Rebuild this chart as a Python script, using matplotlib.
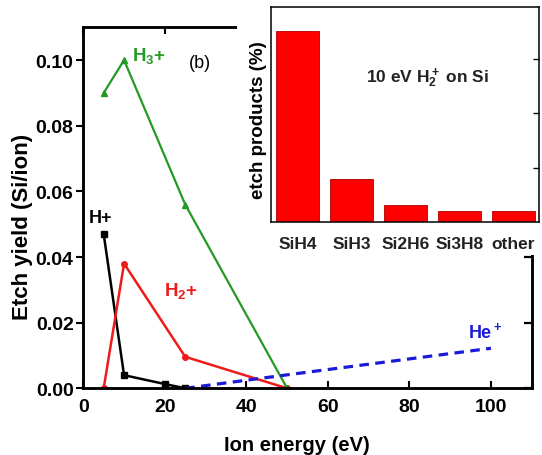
import matplotlib
matplotlib.use('Agg')
import matplotlib.pyplot as plt
from matplotlib.patches import Rectangle

plt.rcParams['font.family'] = ['Liberation Sans', 'DejaVu Sans']
plt.rcParams['font.weight'] = 'bold'
plt.rcParams['axes.labelweight'] = 'bold'
plt.rcParams['mathtext.fontset'] = 'custom'
plt.rcParams['mathtext.rm'] = 'Liberation Sans:bold'
plt.rcParams['mathtext.bf'] = 'Liberation Sans:bold'
plt.rcParams['mathtext.it'] = 'Liberation Sans:bold'
plt.rcParams['mathtext.default'] = 'bf'

# etch yield (Si/ion) vs ion energy (eV)
h1_energy = [5, 10, 20, 25]
h1_yield = [0.047, 0.004, 0.0013, 0.0]
h2_energy = [5, 10, 25, 50]
h2_yield = [0.0, 0.038, 0.0096, 0.0]
h3_energy = [5, 10, 25, 50]
h3_yield = [0.090, 0.100, 0.056, 0.0]
he_energy = [25, 50, 100]
he_yield = [0.0, 0.0041, 0.0122]

# inset: etch products for 10 eV H2+ on Si
products = ['SiH4', 'SiH3', 'Si2H6', 'Si3H8', 'other']
product_pct = [35.1, 8.0, 3.1, 2.0, 2.0]

GREEN = '#239a23'
RED = '#ee1b1b'
BLUE = '#1a1ad8'


def main():
    W, H = 542, 456
    fig = plt.figure(figsize=(W / 100, H / 100), dpi=100)

    # main axes, placed in pixels
    ax = fig.add_axes([83.3 / W, 1 - 389.3 / H, (531.7 - 83.3) / W, (389.3 - 28.3) / H])
    ax.plot(h1_energy, h1_yield, color='black', lw=1.8, marker='s', ms=4)
    ax.plot(h2_energy, h2_yield, color=RED, lw=1.8, marker='o', ms=4)
    ax.plot(h3_energy, h3_yield, color=GREEN, lw=1.6, marker='^', ms=5)
    ax.plot(he_energy, he_yield, color=BLUE, lw=2.3, dashes=(3, 2))

    yt = [0.00, 0.02, 0.04, 0.06, 0.08, 0.10]
    ax.set_xlim(0, 110)
    ax.set_ylim(0, 0.11)
    ax.set_xticks([0, 20, 40, 60, 80, 100])
    ax.set_yticks(yt)
    ax.set_yticklabels(['%.2f' % v for v in yt])
    ax.tick_params(axis='x', direction='in', top=True, length=5, width=1.5,
                   labelsize=14, pad=7)
    ax.tick_params(axis='y', direction='out', length=5, width=1.5,
                   labelsize=14, pad=2)
    for s in ax.spines.values():
        s.set_linewidth(1.8)

    # inward ticks on the right side
    ax2 = ax.twinx()
    ax2.set_ylim(0, 0.11)
    ax2.set_yticks(yt)
    ax2.tick_params(axis='y', direction='in', length=6, width=1.6, labelright=False)
    for s in ax2.spines.values():
        s.set_linewidth(1.8)

    ax.set_xlabel('Ion energy (eV)', fontsize=14.5)
    ax.xaxis.set_label_coords(0.476, -0.13)
    ax.set_ylabel('Etch yield (Si/ion)', fontsize=16)
    ax.yaxis.set_label_coords(-0.112, 0.45)

    ax.text(12, 0.1015, 'H$_3$+', color=GREEN, fontsize=13.5, va='center')
    ax.text(28.6, 0.0993, '(b)', color='black', fontsize=13, fontweight='normal',
            ha='center', va='center')
    ax.text(4.1, 0.052, 'H+', color='black', fontsize=13, ha='center', va='center')
    ax.text(24, 0.030, 'H$_2$+', color=RED, fontsize=13.5, ha='center', va='center')
    ax.text(98.5, 0.0174, 'He$^+$', color=BLUE, fontsize=13, ha='center', va='center')

    # white area behind the inset
    fig.add_artist(Rectangle((237 / W, 1 - 256 / H), 1, 1, transform=fig.transFigure,
                             facecolor='white', edgecolor='none', zorder=1))

    ins = fig.add_axes([270.7 / W, 1 - 223.3 / H, (539.3 - 270.7) / W, (223.3 - 8.3) / H])
    ins.set_zorder(3)
    ins.bar(range(len(products)), product_pct, width=0.8, color='#ff0000',
            edgecolor='#b00000', linewidth=0.6)
    ins.set_xlim(-0.5, 4.48)
    ins.set_ylim(0, 39.5)
    ins.set_xticks(range(len(products)))
    ins.set_xticklabels(products, fontsize=12.5, color='#222222')
    ins.tick_params(axis='x', length=0, pad=10)
    ins.set_yticks([10, 20, 30])
    ins.tick_params(axis='y', left=False, right=True, direction='in', length=4,
                    width=1, labelleft=False)
    for s in ins.spines.values():
        s.set_linewidth(1.1)
    ins.set_ylabel('etch products (%)', fontsize=13.5)
    ins.yaxis.set_label_coords(-0.015, 0.48)
    ins.text(0.582, 0.676, '10 eV H$_2^+$ on Si', transform=ins.transAxes,
             fontsize=12.5, ha='center', va='center', color='#222222')

    fig.savefig('out.png', dpi=100)


if __name__ == '__main__':
    main()
